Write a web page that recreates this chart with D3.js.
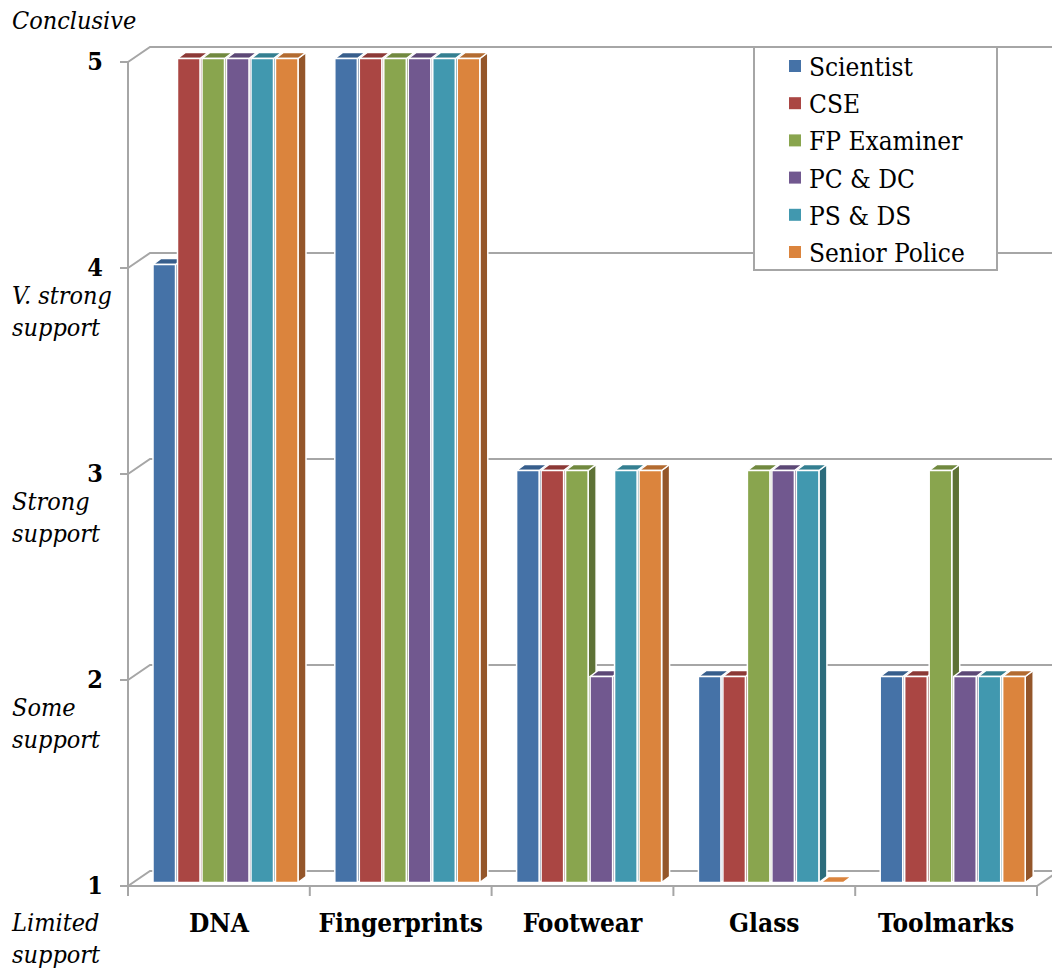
<!DOCTYPE html>
<meta charset="utf-8">
<script src="https://d3js.org/d3.v7.min.js"></script>
<style>
  body { margin: 0; background: #fff; }
</style>
<div id="my_dataviz"></div>
<script>
// data
var categories = ["DNA", "Fingerprints", "Footwear", "Glass", "Toolmarks"];
var series = ["Scientist", "CSE", "FP Examiner", "PC & DC", "PS & DS", "Senior Police"];
var scientist = [4, 5, 3, 2, 2];
var cse = [5, 5, 3, 2, 2];
var fpExaminer = [5, 5, 3, 3, 3];
var pcDc = [5, 5, 2, 3, 2];
var psDs = [5, 5, 3, 3, 2];
var seniorPolice = [5, 5, 3, 1, 2];
var yTicks = [1, 2, 3, 4, 5];
var scaleNames = [["Limited", "support"], ["Some", "support"], ["Strong", "support"], ["V. strong", "support"], ["Conclusive"]];

var values = [scientist, cse, fpExaminer, pcDc, psDs, seniorPolice];
var front = ["#4572A7", "#AA4643", "#89A54E", "#71588F", "#4198AF", "#DB843D"];
var side  = ["#2F5178", "#78302E", "#5E7236", "#4E3C64", "#2C6C7C", "#94562A"];
var cap   = ["#375E8C", "#8C3936", "#71893F", "#5C4876", "#347F91", "#B36B30"];

var width = 1052, height = 969;
var svg = d3.select("#my_dataviz").append("svg")
    .attr("width", width).attr("height", height)
    .style("font-family", "'DejaVu Serif Condensed', 'DejaVu Serif', serif");

// scales (front plane)
var y = d3.scaleLinear().domain([1, 5]).range([886, 62]);
var x0 = d3.scaleBand().domain(categories).range([128, 1037]);
var bw = x0.bandwidth();
var x1 = d3.scaleBand().domain(series).range([25, 25 + 145]).paddingInner(0.08);

// depth offsets
var wall = {dx: 22, dy: -15};   // front axis -> back wall
var barOff = {dx: 0, dy: -3.5}; // front axis -> bar front face
var depth = {dx: 8, dy: -6};    // bar depth
var grey = "#A6A6A6";

// side wall + back wall gridlines
var grid = svg.append("g").attr("stroke", grey).attr("stroke-width", 2).attr("fill", "none");
yTicks.forEach(function(v) {
  grid.append("path")
    .attr("d", "M128," + y(v) + "L" + (128 + wall.dx) + "," + (y(v) + wall.dy) + "H" + (width + 10));
});
// floor right edge
grid.append("path")
  .attr("d", "M1037," + y(1) + "L" + (1037 + wall.dx) + "," + (y(1) + wall.dy));

// bars
var bars = svg.append("g").attr("stroke", "#fff").attr("stroke-width", 1.5).attr("stroke-linejoin", "round");
categories.forEach(function(c, ci) {
  series.forEach(function(s, si) {
    var v = values[si][ci];
    var bx = x0(c) + x1(s) + barOff.dx;
    var w = x1.bandwidth();
    var yt = y(v) + barOff.dy, yb = y(1) + barOff.dy;
    var g = bars.append("g");
    if (v > 1) {
      g.append("path").attr("fill", side[si])
        .attr("d", "M" + (bx + w) + "," + yt + "l" + depth.dx + "," + depth.dy +
          "V" + (yb + depth.dy) + "l" + (-depth.dx) + "," + (-depth.dy) + "Z");
    }
    g.append("path").attr("fill", v > 1 ? cap[si] : front[si])
      .attr("d", "M" + bx + "," + yt + "l" + depth.dx + "," + depth.dy + "h" + w +
        "l" + (-depth.dx) + "," + (-depth.dy) + "Z");
    if (v > 1) {
      g.append("rect").attr("fill", front[si])
        .attr("x", bx).attr("y", yt).attr("width", w).attr("height", yb - yt);
    }
  });
});

// front axes
var ax = svg.append("g").attr("stroke", grey).attr("stroke-width", 2).attr("fill", "none");
ax.append("path").attr("d", "M128," + y(5) + "V" + y(1) + "H1037");
yTicks.forEach(function(v) {
  ax.append("path").attr("d", "M120," + y(v) + "H128");
});
categories.concat([null]).forEach(function(c, i) {
  var xx = 128 + i * bw;
  ax.append("path").attr("d", "M" + xx + "," + y(1) + "V" + (y(1) + 10));
});

// y tick labels
svg.append("g").selectAll("text").data(yTicks).enter().append("text")
  .attr("x", 103).attr("y", function(d) { return y(d) + 8; })
  .attr("text-anchor", "end").attr("font-weight", "bold").attr("font-size", 25)
  .text(function(d) { return d; });

// scale names
yTicks.forEach(function(v, i) {
  var lines = scaleNames[i];
  var base = v === 5 ? y(v) - 33 : y(v) + (v === 1 ? 45 : 36);
  var t = svg.append("text").attr("font-style", "italic").attr("font-size", 25);
  lines.forEach(function(l, k) {
    t.append("tspan").attr("x", 12).attr("y", base + k * 32).text(l);
  });
});

// category labels
svg.append("g").selectAll("text").data(categories).enter().append("text")
  .attr("x", function(d) { return x0(d) + bw / 2; })
  .attr("y", 932)
  .attr("text-anchor", "middle").attr("font-weight", "bold").attr("font-size", 26)
  .text(function(d) { return d; });

// legend
var lg = svg.append("g");
lg.append("rect").attr("x", 754).attr("y", 47).attr("width", 243).attr("height", 223)
  .attr("fill", "#fff").attr("stroke", grey).attr("stroke-width", 2);
series.forEach(function(s, i) {
  var ry = 66 + i * 37.2;
  lg.append("rect").attr("x", 789).attr("y", ry - 6).attr("width", 12).attr("height", 12)
    .attr("fill", front[i]);
  lg.append("text").attr("x", 809).attr("y", ry + 10).attr("font-size", 26).text(s);
});
</script>
